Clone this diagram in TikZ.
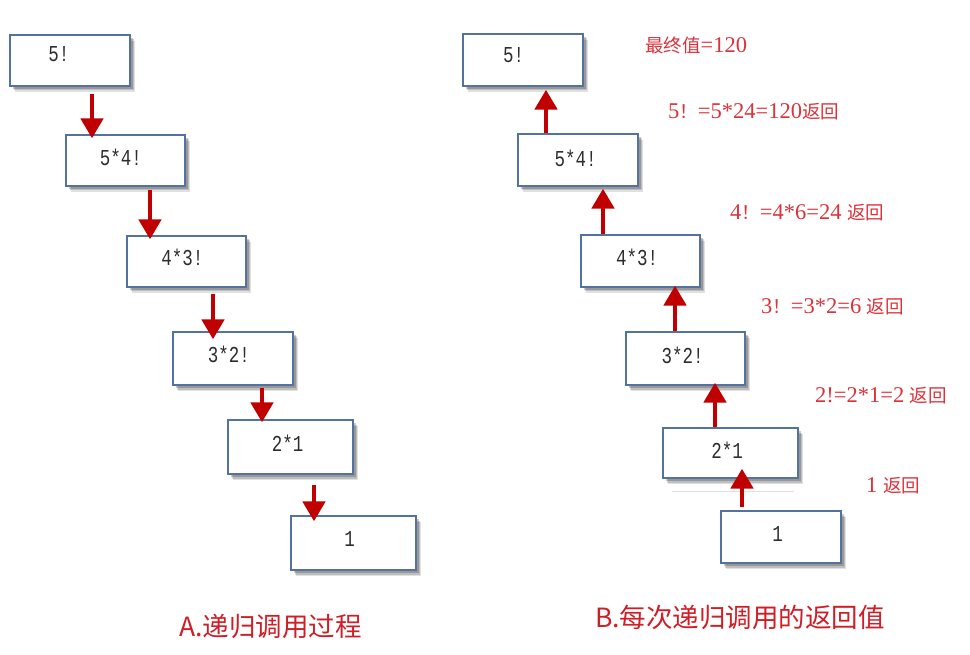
\documentclass[tikz,border=0pt]{standalone}
\usepackage{fontspec}
\setmainfont{Liberation Serif}
\newfontfamily\cjk{Noto Sans CJK SC}
\newfontfamily\boxfont{Liberation Mono}
\usetikzlibrary{arrows.meta,shadows,calc}
\definecolor{boxblue}{RGB}{84,114,160}
\definecolor{arrred}{RGB}{192,0,0}
\definecolor{labred}{RGB}{220,50,58}
\definecolor{capred}{RGB}{208,30,38}
\definecolor{txtgray}{RGB}{45,45,45}
\newcommand\cj[1]{{\cjk\fontsize{18.5}{21}\selectfont #1}}
\newcommand\bt[1]{\scalebox{1}[1.3]{#1}}
\begin{document}
\begin{tikzpicture}[x=1pt,y=-1pt,
 fbox/.style={draw=boxblue,line width=1.3pt,fill=white,rectangle,inner sep=0pt,
   drop shadow={shadow xshift=5pt,shadow yshift=-6pt,opacity=0.12,fill=black},
   drop shadow={shadow xshift=4pt,shadow yshift=-4.5pt,opacity=0.15,fill=black},
   drop shadow={shadow xshift=2.5pt,shadow yshift=-3pt,opacity=0.2,fill=black}},
 ftext/.style={text=txtgray,font=\boxfont\fontsize{17.5}{20}\selectfont,inner sep=0pt},
 arr/.style={draw=arrred,line width=4.8pt,-{Triangle[width=22pt,length=20pt]}},
 rlab/.style={text=labred,anchor=west,inner sep=0pt,font=\fontsize{22.5}{25}\selectfont},
 captext/.style={text=capred,font=\cjk\fontsize{26.5}{30}\selectfont,inner sep=0pt}]
\useasboundingbox[fill=white] (0,0) rectangle (970,655);

% left column
\node[fbox,minimum width=120pt,minimum height=51pt] (L1) at (70,60.5) {};
\node[fbox,minimum width=119pt,minimum height=51pt] (L2) at (125.5,160.5) {};
\node[fbox,minimum width=119pt,minimum height=51pt] (L3) at (186.5,261.5) {};
\node[fbox,minimum width=120pt,minimum height=53pt] (L4) at (233,358.5) {};
\node[fbox,minimum width=125pt,minimum height=54pt] (L5) at (290.5,447) {};
\node[fbox,minimum width=125pt,minimum height=54pt] (L6) at (353.5,543) {};
\node[ftext] (tL1) at ($(L1)+(-11,-6)$) {\bt{5!}};
\node[ftext] (tL2) at ($(L2)+(-4.5,-3.5)$) {\bt{5*4!}};
\node[ftext] (tL3) at ($(L3)+(-4,-4)$) {\bt{4*3!}};
\node[ftext] (tL4) at ($(L4)+(-4,-4)$) {\bt{3*2!}};
\node[ftext] (tL5) at ($(L5)+(-3,-3.5)$) {\bt{2*1}};
\node[ftext] (tL6) at ($(L6)+(-4,-3.5)$) {\bt{1}};

\draw[arr] ($(L1.south)+(22,7)$) -- ($(L2.north)+(-33.5,4)$);
\draw[arr] ($(L2.south)+(24.5,3)$) -- ($(L3.north)+(-36.5,4)$);
\draw[arr] ($(L3.south)+(26.5,6)$) -- ($(L4.north)+(-20,8)$);
\draw[arr] ($(L4.south)+(29,2)$) -- ($(L5.north)+(-28.5,3)$);
\draw[arr] ($(L5.south)+(23.5,10)$) -- ($(L6.north)+(-39.5,6)$);

% right column
\node[fbox,minimum width=120pt,minimum height=52pt] (R1) at (523,60) {};
\node[fbox,minimum width=120pt,minimum height=52pt] (R2) at (578,160) {};
\node[fbox,minimum width=119pt,minimum height=52pt] (R3) at (640.5,261) {};
\node[fbox,minimum width=119pt,minimum height=53pt] (R4) at (685.5,358.5) {};
\node[fbox,minimum width=135pt,minimum height=50pt] (R5) at (730.5,453) {};
\node[fbox,minimum width=120pt,minimum height=52pt] (R6) at (781,537) {};
\node[ftext] (tR1) at ($(R1)+(-9.5,-5)$) {\bt{5!}};
\node[ftext] (tR2) at ($(R2)+(-2.5,-1.5)$) {\bt{5*4!}};
\node[ftext] (tR3) at ($(R3)+(-3.5,-3.5)$) {\bt{4*3!}};
\node[ftext] (tR4) at ($(R4)+(-3,-3)$) {\bt{3*2!}};
\node[ftext] (tR5) at ($(R5)+(-3.5,-2.5)$) {\bt{2*1}};
\node[ftext] (tR6) at ($(R6)+(-3.5,-2.5)$) {\bt{1}};

\draw[black!12,line width=1pt] ($(R5.south west)+(10,13)$) -- ($(R5.south east)+(-5,13)$);

\draw[arr] ($(R2.north)+(-32,0)$) -- ($(R1.south)+(23,3)$);
\draw[arr] ($(R3.north)+(-37.5,0)$) -- ($(R2.south)+(25,2)$);
\draw[arr] ($(R4.north)+(-10.5,0)$) -- ($(R3.south)+(34.5,-2)$);
\draw[arr] ($(R5.north)+(-15.5,0)$) -- ($(R4.south)+(29.5,-3)$);
\draw[arr] ($(R6.north)+(-39,-3)$) -- ($(R5.south)+(11.5,-10)$);

% red labels
\node[rlab] (v0) at (645,45) {\cj{最终值}=120};
\node[rlab] (v5) at (668,112) {5\cj{！}=5*24=120\cj{返回}};
\node[rlab] (v4) at (730,213) {4\cj{！}=4*6=24 \cj{返回}};
\node[rlab] (v3) at (761,307) {3\cj{！}=3*2=6 \cj{返回}};
\node[rlab] (v2) at (815,396) {2!=2*1=2 \cj{返回}};
\node[rlab] (v1) at (866,486) {1 \cj{返回}};

% captions
\node[captext] (capA) at (270.5,626) {A.递归调用过程};
\node[captext] (capB) at (740,617) {B.每次递归调用的返回值};
\end{tikzpicture}
\end{document}
